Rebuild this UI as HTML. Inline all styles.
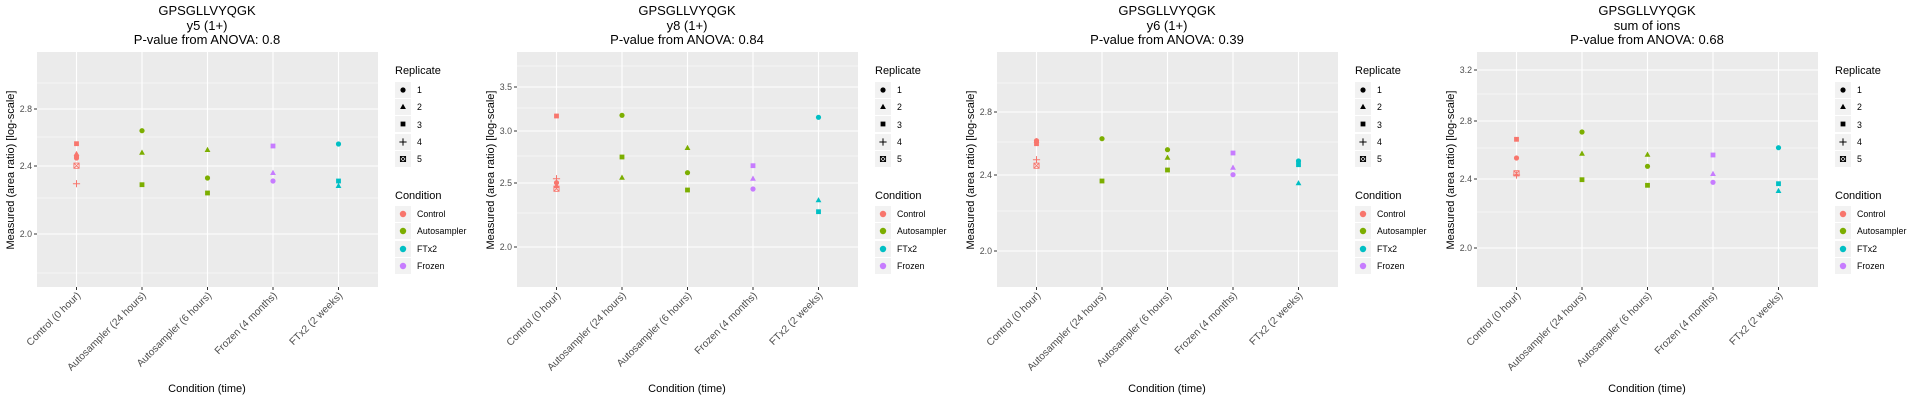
<!DOCTYPE html>
<html><head><meta charset="utf-8"><style>
html,body{margin:0;padding:0;background:#fff;}
svg{display:block;font-family:"Liberation Sans",sans-serif;}
.t{font-size:13px;fill:#000;text-anchor:middle}
.yt{font-size:8.8px;fill:#4d4d4d;text-anchor:end}
.xt{font-size:10.2px;fill:#4d4d4d;text-anchor:end}
.at{font-size:11px;fill:#000;text-anchor:middle}
.lt{font-size:11px;fill:#000}
.ll{font-size:8.8px;fill:#000}
.gm{stroke:#fff;stroke-width:0.55}
.gM{stroke:#fff;stroke-width:1.1}
.tk{stroke:#333;stroke-width:1}
.C{fill:#F8766D;stroke:#F8766D}.A{fill:#7CAE00;stroke:#7CAE00}.F{fill:#00BFC4;stroke:#00BFC4}.Z{fill:#C77CFF;stroke:#C77CFF}
.p{fill:none;stroke-width:1}
</style></head><body>
<svg width="1920" height="400" viewBox="0 0 1920 400" xmlns="http://www.w3.org/2000/svg">
<defs>
<circle id="c" r="2.6" stroke="none"/>
<path id="t" d="M0,-3.2 L2.9,2 L-2.9,2Z" stroke="none"/>
<rect id="s" x="-2.4" y="-2.4" width="4.8" height="4.8" stroke="none"/>
<path id="pl" d="M-3.6,0H3.6M0,-3.6V3.6" fill="none" stroke-width="1"/>
<path id="s5" d="M-2.6,-2.6h5.2v5.2h-5.2z M-2.6,-2.6L2.6,2.6M2.6,-2.6L-2.6,2.6" fill="none" stroke-width="0.9"/>
<g id="legend">
<text class="lt" x="395" y="74">Replicate</text>
<rect x="395" y="82" width="16" height="16" fill="#f2f2f2"/>
<rect x="395" y="99" width="16" height="16" fill="#f2f2f2"/>
<rect x="395" y="116" width="16" height="16" fill="#f2f2f2"/>
<rect x="395" y="134" width="16" height="16" fill="#f2f2f2"/>
<rect x="395" y="151" width="16" height="16" fill="#f2f2f2"/>
<use href="#c" x="403" y="90" fill="#000"/>
<use href="#t" x="403" y="107" fill="#000"/>
<use href="#s" x="403" y="124" fill="#000"/>
<use href="#pl" x="403" y="142" stroke="#000"/>
<use href="#s5" x="403" y="159" stroke="#000"/>
<text class="ll" x="417" y="93">1</text>
<text class="ll" x="417" y="110">2</text>
<text class="ll" x="417" y="128">3</text>
<text class="ll" x="417" y="145">4</text>
<text class="ll" x="417" y="162">5</text>
<text class="lt" x="395" y="199">Condition</text>
<rect x="395" y="206" width="16" height="16" fill="#f2f2f2"/>
<rect x="395" y="223" width="16" height="16" fill="#f2f2f2"/>
<rect x="395" y="241" width="16" height="16" fill="#f2f2f2"/>
<rect x="395" y="258" width="16" height="16" fill="#f2f2f2"/>
<circle cx="403" cy="214" r="3.2" fill="#F8766D"/>
<circle cx="403" cy="231" r="3.2" fill="#7CAE00"/>
<circle cx="403" cy="249" r="3.2" fill="#00BFC4"/>
<circle cx="403" cy="266" r="3.2" fill="#C77CFF"/>
<text class="ll" x="417" y="217">Control</text>
<text class="ll" x="417" y="234">Autosampler</text>
<text class="ll" x="417" y="252">FTx2</text>
<text class="ll" x="417" y="269">Frozen</text>
</g>
<g id="xax">
<rect x="37" y="52" width="341" height="235" fill="#ebebeb"/>
<path class="gM" d="M76.5,52V287M142,52V287M207.5,52V287M273,52V287M338.5,52V287"/>
<path class="tk" d="M76.5,287v3M142,287v3M207.5,287v3M273,287v3M338.5,287v3"/>
<text class="at" x="207" y="392">Condition (time)</text>
<text class="at" transform="translate(14,170) rotate(-90)">Measured (area ratio) [log-scale]</text>
</g>
<g id="xl">
<text class="xt" transform="translate(81,296) rotate(-45)">Control (0 hour)</text>
<text class="xt" transform="translate(146.5,296) rotate(-45)">Autosampler (24 hours)</text>
<text class="xt" transform="translate(212,296) rotate(-45)">Autosampler (6 hours)</text>
<text class="xt" transform="translate(277.5,296) rotate(-45)">Frozen (4 months)</text>
<text class="xt" transform="translate(343,296) rotate(-45)">FTx2 (2 weeks)</text>
</g>
</defs>

<g>
<use href="#xax"/>
<path class="gm" d="M37,83H378M37,137H378M37,198H378M37,273H378"/>
<path class="gM" d="M37,109H378M37,166H378M37,234H378"/>
<path class="tk" d="M34,109h3M34,166h3M34,234h3"/>
<text class="yt" x="32" y="112">2.8</text><text class="yt" x="32" y="169">2.4</text><text class="yt" x="32" y="237">2.0</text>
<text class="t" x="207" y="15">GPSGLLVYQGK</text><text class="t" x="207" y="30">y5 (1+)</text><text class="t" x="207" y="44">P-value from ANOVA: 0.8</text>
<use href="#s" class="C" x="76.5" y="143.7"/><use href="#t" class="C" x="76.5" y="154"/><use href="#c" class="C" x="76.5" y="156"/><use href="#c" class="C" x="76.5" y="158"/><use href="#s5" class="C p" x="76.5" y="165.7"/><use href="#pl" class="C p" x="76.5" y="183.7"/>
<use href="#c" class="A" x="142" y="130.7"/><use href="#t" class="A" x="142" y="152.7"/><use href="#s" class="A" x="142" y="184.7"/>
<use href="#t" class="A" x="207.5" y="150"/><use href="#c" class="A" x="207.5" y="178"/><use href="#s" class="A" x="207.5" y="193"/>
<use href="#s" class="Z" x="273" y="146"/><use href="#t" class="Z" x="273" y="173"/><use href="#c" class="Z" x="273" y="181"/>
<use href="#c" class="F" x="338.5" y="144"/><use href="#s" class="F" x="338.5" y="181"/><use href="#t" class="F" x="338.5" y="186"/>
<use href="#xl"/><use href="#legend"/>
</g>

<g transform="translate(480,0)">
<use href="#xax"/>
<path class="gm" d="M37,66H378M37,108H378M37,156H378M37,213H378"/>
<path class="gM" d="M37,87H378M37,131H378M37,183H378M37,247H378"/>
<path class="tk" d="M34,87h3M34,131h3M34,183h3M34,247h3"/>
<text class="yt" x="32" y="90">3.5</text><text class="yt" x="32" y="134">3.0</text><text class="yt" x="32" y="186">2.5</text><text class="yt" x="32" y="250">2.0</text>
<text class="t" x="207" y="15">GPSGLLVYQGK</text><text class="t" x="207" y="30">y8 (1+)</text><text class="t" x="207" y="44">P-value from ANOVA: 0.84</text>
<use href="#s" class="C" x="76.5" y="116"/><use href="#pl" class="C p" x="76.5" y="178.7"/><use href="#c" class="C" x="76.5" y="182.7"/><use href="#t" class="C" x="76.5" y="186"/><use href="#s5" class="C p" x="76.5" y="188.7"/>
<use href="#c" class="A" x="142" y="115.3"/><use href="#s" class="A" x="142" y="157"/><use href="#t" class="A" x="142" y="177.7"/>
<use href="#t" class="A" x="207.5" y="148"/><use href="#c" class="A" x="207.5" y="172.7"/><use href="#s" class="A" x="207.5" y="190"/>
<use href="#s" class="Z" x="273" y="165.7"/><use href="#t" class="Z" x="273" y="178.7"/><use href="#c" class="Z" x="273" y="189"/>
<use href="#c" class="F" x="338.5" y="117.3"/><use href="#t" class="F" x="338.5" y="200.3"/><use href="#s" class="F" x="338.5" y="211.7"/>
<use href="#xl"/><use href="#legend"/>
</g>

<g transform="translate(960,0)">
<use href="#xax"/>
<path class="gm" d="M37,83H378M37,142H378M37,211H378"/>
<path class="gM" d="M37,112H378M37,175H378M37,251H378"/>
<path class="tk" d="M34,112h3M34,175h3M34,251h3"/>
<text class="yt" x="32" y="115">2.8</text><text class="yt" x="32" y="178">2.4</text><text class="yt" x="32" y="254">2.0</text>
<text class="t" x="207" y="15">GPSGLLVYQGK</text><text class="t" x="207" y="30">y6 (1+)</text><text class="t" x="207" y="44">P-value from ANOVA: 0.39</text>
<use href="#c" class="C" x="76.5" y="140.7"/><use href="#t" class="C" x="76.5" y="141"/><use href="#s" class="C" x="76.5" y="143.7"/><use href="#pl" class="C p" x="76.5" y="159.7"/><use href="#s5" class="C p" x="76.5" y="165.7"/>
<use href="#c" class="A" x="142" y="138.7"/><use href="#s" class="A" x="142" y="181"/>
<use href="#c" class="A" x="207.5" y="149.7"/><use href="#t" class="A" x="207.5" y="157.7"/><use href="#s" class="A" x="207.5" y="170"/>
<use href="#s" class="Z" x="273" y="153"/><use href="#t" class="Z" x="273" y="167.7"/><use href="#c" class="Z" x="273" y="174.7"/>
<use href="#c" class="F" x="338.5" y="161"/><use href="#s" class="F" x="338.5" y="164.7"/><use href="#t" class="F" x="338.5" y="183.3"/>
<use href="#xl"/><use href="#legend"/>
</g>

<g transform="translate(1440,0)">
<use href="#xax"/>
<path class="gm" d="M37,94H378M37,148H378M37,212H378"/>
<path class="gM" d="M37,70H378M37,121H378M37,179H378M37,248H378"/>
<path class="tk" d="M34,70h3M34,121h3M34,179h3M34,248h3"/>
<text class="yt" x="32" y="73">3.2</text><text class="yt" x="32" y="124">2.8</text><text class="yt" x="32" y="182">2.4</text><text class="yt" x="32" y="251">2.0</text>
<text class="t" x="207" y="15">GPSGLLVYQGK</text><text class="t" x="207" y="30">sum of ions</text><text class="t" x="207" y="44">P-value from ANOVA: 0.68</text>
<use href="#s" class="C" x="76.5" y="139.3"/><use href="#c" class="C" x="76.5" y="158"/><use href="#s5" class="C p" x="76.5" y="173.3"/><use href="#pl" class="C p" x="76.5" y="175"/>
<use href="#c" class="A" x="142" y="132"/><use href="#t" class="A" x="142" y="153.7"/><use href="#s" class="A" x="142" y="179.7"/>
<use href="#t" class="A" x="207.5" y="154.7"/><use href="#c" class="A" x="207.5" y="166.3"/><use href="#s" class="A" x="207.5" y="185.3"/>
<use href="#s" class="Z" x="273" y="155"/><use href="#t" class="Z" x="273" y="174"/><use href="#c" class="Z" x="273" y="182.3"/>
<use href="#c" class="F" x="338.5" y="147.7"/><use href="#s" class="F" x="338.5" y="183.7"/><use href="#t" class="F" x="338.5" y="191"/>
<use href="#xl"/><use href="#legend"/>
</g>
</svg>
</body></html>
